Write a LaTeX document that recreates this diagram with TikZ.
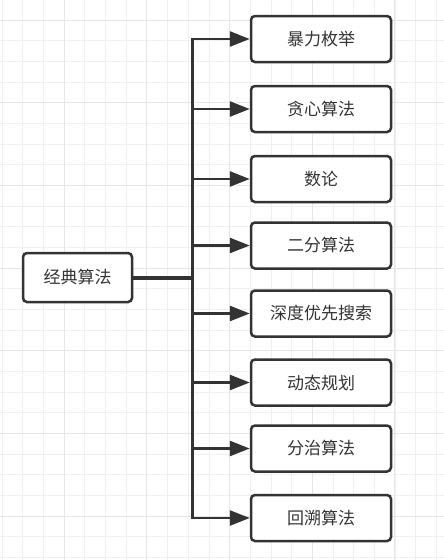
\documentclass[tikz,border=0pt]{standalone}
\usepackage{fontspec}
\setmainfont{Noto Sans CJK SC}
\usetikzlibrary{arrows.meta}
\definecolor{darkline}{HTML}{333333}
\definecolor{textgray}{HTML}{333333}
\definecolor{gridminor}{HTML}{F0F0F0}
\definecolor{gridmajor}{HTML}{E6E6E6}

\begin{document}
\begin{tikzpicture}[
    x=1pt, y=-1pt,
    box/.style={draw=darkline, line width=2.5pt, rounded corners=4pt, fill=white, minimum width=140pt, minimum height=46pt, inner sep=0pt, text=textgray, font=\fontsize{17}{20}\selectfont},
    arrow/.style={-{Triangle[length=20pt,width=15pt]}, line width=2.5pt, draw=darkline},
    trunk/.style={line width=4pt, draw=darkline},
    gridline/.style={draw=gridminor, line width=1pt},
    majorline/.style={draw=gridmajor, line width=1pt}
]
\useasboundingbox[fill=white] (0,0) rectangle (444,560);

% Background grid
\foreach \k in {0,...,21} {
    \draw[gridline] ({2.3+20.67*\k},0) -- ({2.3+20.67*\k},560);
}
\foreach \k in {0,...,27} {
    \draw[gridline] (0,{-0.67+20.67*\k}) -- (444,{-0.67+20.67*\k});
}
\foreach \k in {0,...,4} {
    \draw[majorline] ({64+82.67*\k},0) -- ({64+82.67*\k},560);
}
\foreach \k in {0,...,6} {
    \draw[majorline] (0,{20+82.67*\k}) -- (444,{20+82.67*\k});
}

% Root
\node[box, minimum width=109pt, minimum height=49pt] (root) at (77.5,277.5) {经典算法};
\coordinate (hub) at (192.5,277.5);

% Branches
\foreach \i/\y/\name in {1/39/暴力枚举, 2/109/贪心算法, 3/179/数论, 4/245.5/二分算法,
                         5/313.5/深度优先搜索, 6/382.5/动态规划, 7/448.5/分治算法, 8/518/回溯算法} {
    \node[box] (b\i) at (321,\y) {\name};
}

% Arrows
\draw[trunk] (root) -- (hub);
\foreach \i in {1,...,8} {
    \draw[arrow] (hub) |- (b\i);
}
\end{tikzpicture}
\end{document}
